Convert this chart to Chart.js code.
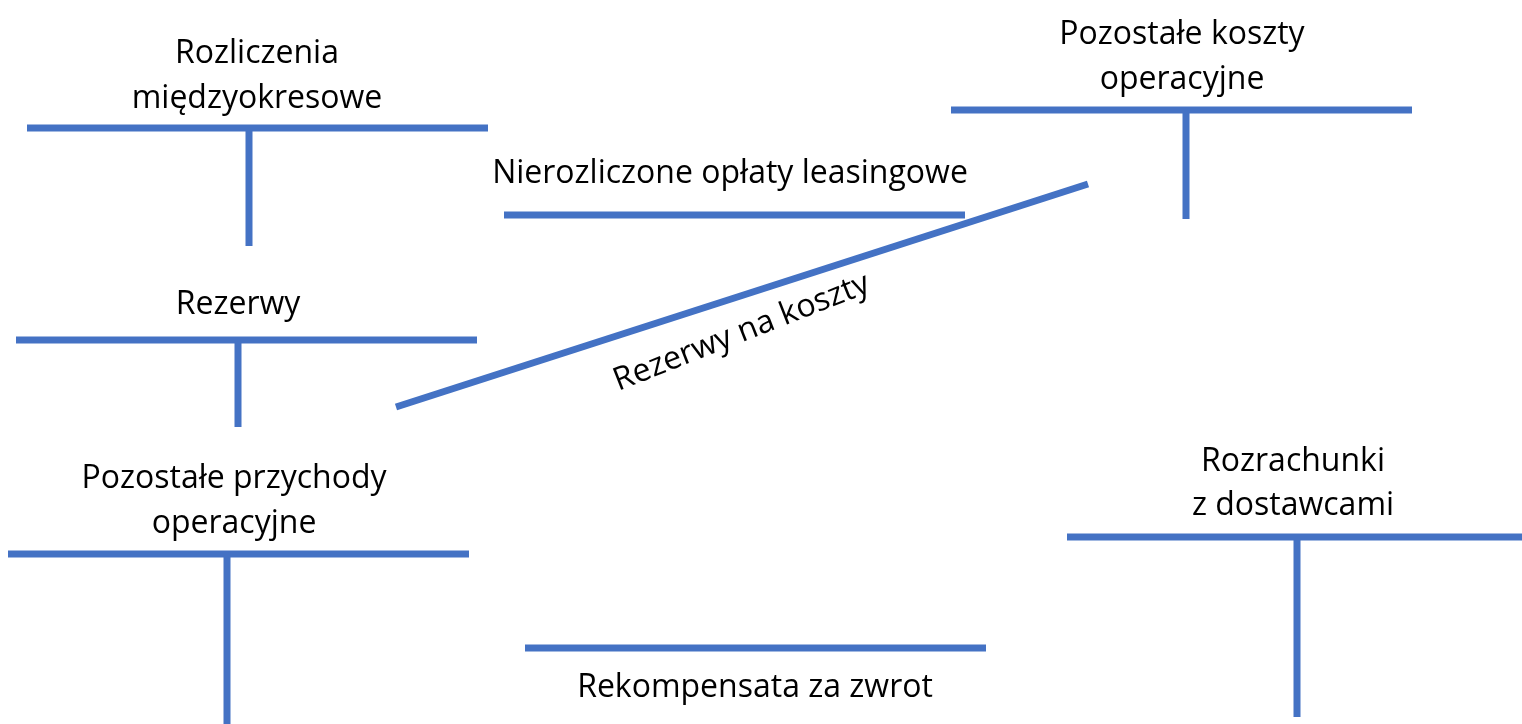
<!DOCTYPE html>
<html lang="pl">
<head>
<meta charset="utf-8">
<title>Konta</title>
<script src="https://cdn.jsdelivr.net/npm/chart.js@4.4.1/dist/chart.umd.min.js"></script>
<style>
    html, body { margin: 0; padding: 0; background: #ffffff; }
    #wrap { position: relative; width: 1522px; height: 724px; }
</style>
</head>
<body>
<div id="wrap"><canvas id="kontaChart"></canvas></div>
<script>
// Konta "T": pozioma belka + pionowa kreska
const accountNames = ['Rozliczenia międzyokresowe', 'Pozostałe koszty operacyjne', 'Rezerwy', 'Pozostałe przychody operacyjne', 'Rozrachunki z dostawcami'];
const barLeft = [27, 951, 16, 8, 1067];
const barRight = [488, 1412, 477, 469, 1522];
const barY = [128, 110, 340, 554, 537];
const stemX = [249, 1186, 238, 227, 1297];
const stemEnd = [246, 219, 427, 724, 717];

// Pojedyncze linie
const lineNames = ['Nierozliczone opłaty leasingowe', 'Rekompensata za zwrot'];
const lineLeft = [504, 525];
const lineRight = [965, 986];
const lineY = [215, 648];

// Linia ukośna "Rezerwy na koszty"
const diagX = [396, 1088];
const diagY = [407, 184];

// Podpisy (x środka, y linii bazowej, kąt)
const labelTexts = ['Rozliczenia', 'międzyokresowe', 'Pozostałe koszty', 'operacyjne', 'Nierozliczone opłaty leasingowe', 'Rezerwy', 'Pozostałe przychody', 'operacyjne', 'Rozrachunki', 'z dostawcami', 'Rekompensata za zwrot', 'Rezerwy na koszty'];
const labelX = [257, 257, 1182, 1182, 730, 238, 234, 234, 1293, 1293, 755, 745];
const labelY = [63, 108, 44, 89, 183, 314, 488, 533, 471, 515, 697, 341];
const labelAngle = [0, 0, 0, 0, 0, 0, 0, 0, 0, 0, 0, -21.5];

const BLUE = '#4472C4';

function segment(label, x1, y1, x2, y2) {
    return {
        label: label,
        data: [{ x: x1, y: y1 }, { x: x2, y: y2 }],
        showLine: true,
        borderColor: BLUE,
        borderWidth: 7,
        borderCapStyle: 'butt',
        pointRadius: 0,
        fill: false
    };
}

const datasets = [];
accountNames.forEach(function (name, i) {
    datasets.push(segment(name + ' (Wn/Ma)', stemX[i], barY[i], stemX[i], stemEnd[i]));
    datasets.push(segment(name, barLeft[i], barY[i], barRight[i], barY[i]));
});
lineNames.forEach(function (name, i) {
    datasets.push(segment(name, lineLeft[i], lineY[i], lineRight[i], lineY[i]));
});
datasets.push(segment('Rezerwy na koszty', diagX[0], diagY[0], diagX[1], diagY[1]));

const labelsPlugin = {
    id: 'accountLabels',
    afterDatasetsDraw: function (chart) {
        const ctx = chart.ctx;
        const xs = chart.scales.x;
        const ys = chart.scales.y;
        ctx.save();
        ctx.fillStyle = '#000000';
        ctx.font = '32px "Open Sans", "Noto Sans", sans-serif';
        ctx.textAlign = 'center';
        ctx.textBaseline = 'alphabetic';
        labelTexts.forEach(function (txt, i) {
            ctx.save();
            ctx.translate(xs.getPixelForValue(labelX[i]), ys.getPixelForValue(labelY[i]));
            ctx.rotate(labelAngle[i] * Math.PI / 180);
            ctx.fillText(txt, 0, 0);
            ctx.restore();
        });
        ctx.restore();
    }
};

const ctx = document.getElementById('kontaChart').getContext('2d');
new Chart(ctx, {
    type: 'scatter',
    data: { datasets: datasets },
    options: {
        responsive: true,
        maintainAspectRatio: false,
        animation: false,
        clip: false,
        layout: { padding: 0 },
        plugins: {
            legend: { display: false },
            tooltip: { enabled: false }
        },
        scales: {
            x: { type: 'linear', min: 0, max: 1522, display: false },
            y: { type: 'linear', min: 0, max: 724, reverse: true, display: false }
        }
    },
    plugins: [labelsPlugin]
});
</script>
</body>
</html>
